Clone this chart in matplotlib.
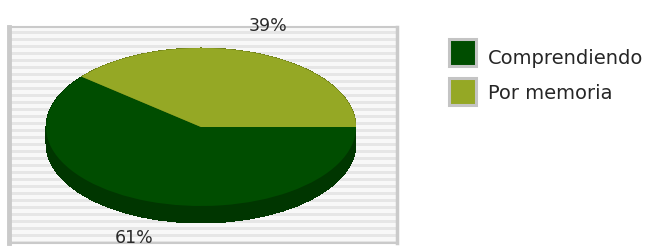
import numpy as np
import matplotlib
matplotlib.use("Agg")
import matplotlib.pyplot as plt
from matplotlib.patches import Rectangle

# ---- data ----
categories = ["Comprendiendo", "Por memoria"]
values = [61, 39]
pct_labels = ["61%", "39%"]
top_colors = ["#004d00", "#95a825"]
side_colors = ["#003600", "#6a7a18"]

W, H = 652, 250
fig = plt.figure(figsize=(W / 100, H / 100), dpi=100)
fig.patch.set_facecolor("white")

def fx(px):
    return px / W

def fy(py):
    return 1 - py / H

# ---- striped background panel ----
pl, pr, pt, pb = 9, 397, 27, 243
bg = fig.add_axes([fx(pl), fy(pb), fx(pr - pl), (pb - pt) / H])
bg.set_xlim(0, 1)
bg.set_ylim(pb - pt, 0)
bg.set_facecolor("#f8f8f8")
period = 7
for y0 in np.arange(0, pb - pt, period):
    bg.axhspan(y0 + 4, y0 + 7, color="#e6e6e6", lw=0)
bg.set_xticks([])
bg.set_yticks([])
for side, sp in bg.spines.items():
    sp.set_color("#cacaca")
    sp.set_linewidth(1.5)
bg.spines["left"].set_linewidth(3.5)
bg.spines["right"].set_linewidth(2.5)

# ---- 3D pie ----
cx_l, cx_r, top_y, bot_y = 46, 356, 48, 223
ry_px = 79.0
depth = (bot_y - top_y - 2 * ry_px) / ry_px
ax = fig.add_axes([fx(cx_l), fy(bot_y), fx(cx_r - cx_l), (bot_y - top_y) / H])
ax.patch.set_alpha(0)

total = float(sum(values))
start = 360.0 * values[1] / total  # Comprendiendo begins where Por memoria ends

for off in np.linspace(depth, 0.0, 24):
    ax.pie(values, colors=side_colors, startangle=start, counterclock=True,
           center=(0, -off), radius=1, frame=False,
           wedgeprops=dict(linewidth=0, antialiased=False))
ax.pie(values, colors=top_colors, startangle=start, counterclock=True,
       center=(0, 0), radius=1, frame=False,
       wedgeprops=dict(linewidth=0))
ax.set_aspect("auto")
ax.set_xlim(-1, 1)
ax.set_ylim(-1 - depth, 1)
ax.axis("off")

# percentage labels
ang = start
for v, lab in zip(values, pct_labels):
    mid = np.deg2rad(ang + 360.0 * v / total / 2)
    x = 1.27 * np.cos(mid)
    if np.sin(mid) >= 0:
        y = 1.36 * np.sin(mid)
    else:
        y = 1.27 * np.sin(mid) - depth
    ax.text(x, y, lab, ha="center", va="center", fontsize=12.5,
            color="#2a2a2a", clip_on=False)
    ang += 360.0 * v / total

# ---- legend ----
for i, (cat, col) in enumerate(zip(categories, top_colors)):
    y_top = 38.5 + i * 40
    fig.patches.append(Rectangle((fx(448.5), fy(y_top + 27)), 27 / W, 27 / H,
                                 transform=fig.transFigure, facecolor=col,
                                 edgecolor="#c4c4c4", linewidth=2.2))
    fig.text(fx(488), fy(63.5 + i * 35.5), cat, ha="left", va="baseline",
             fontsize=14, color="#262626")

fig.savefig("out.png", dpi=100)
